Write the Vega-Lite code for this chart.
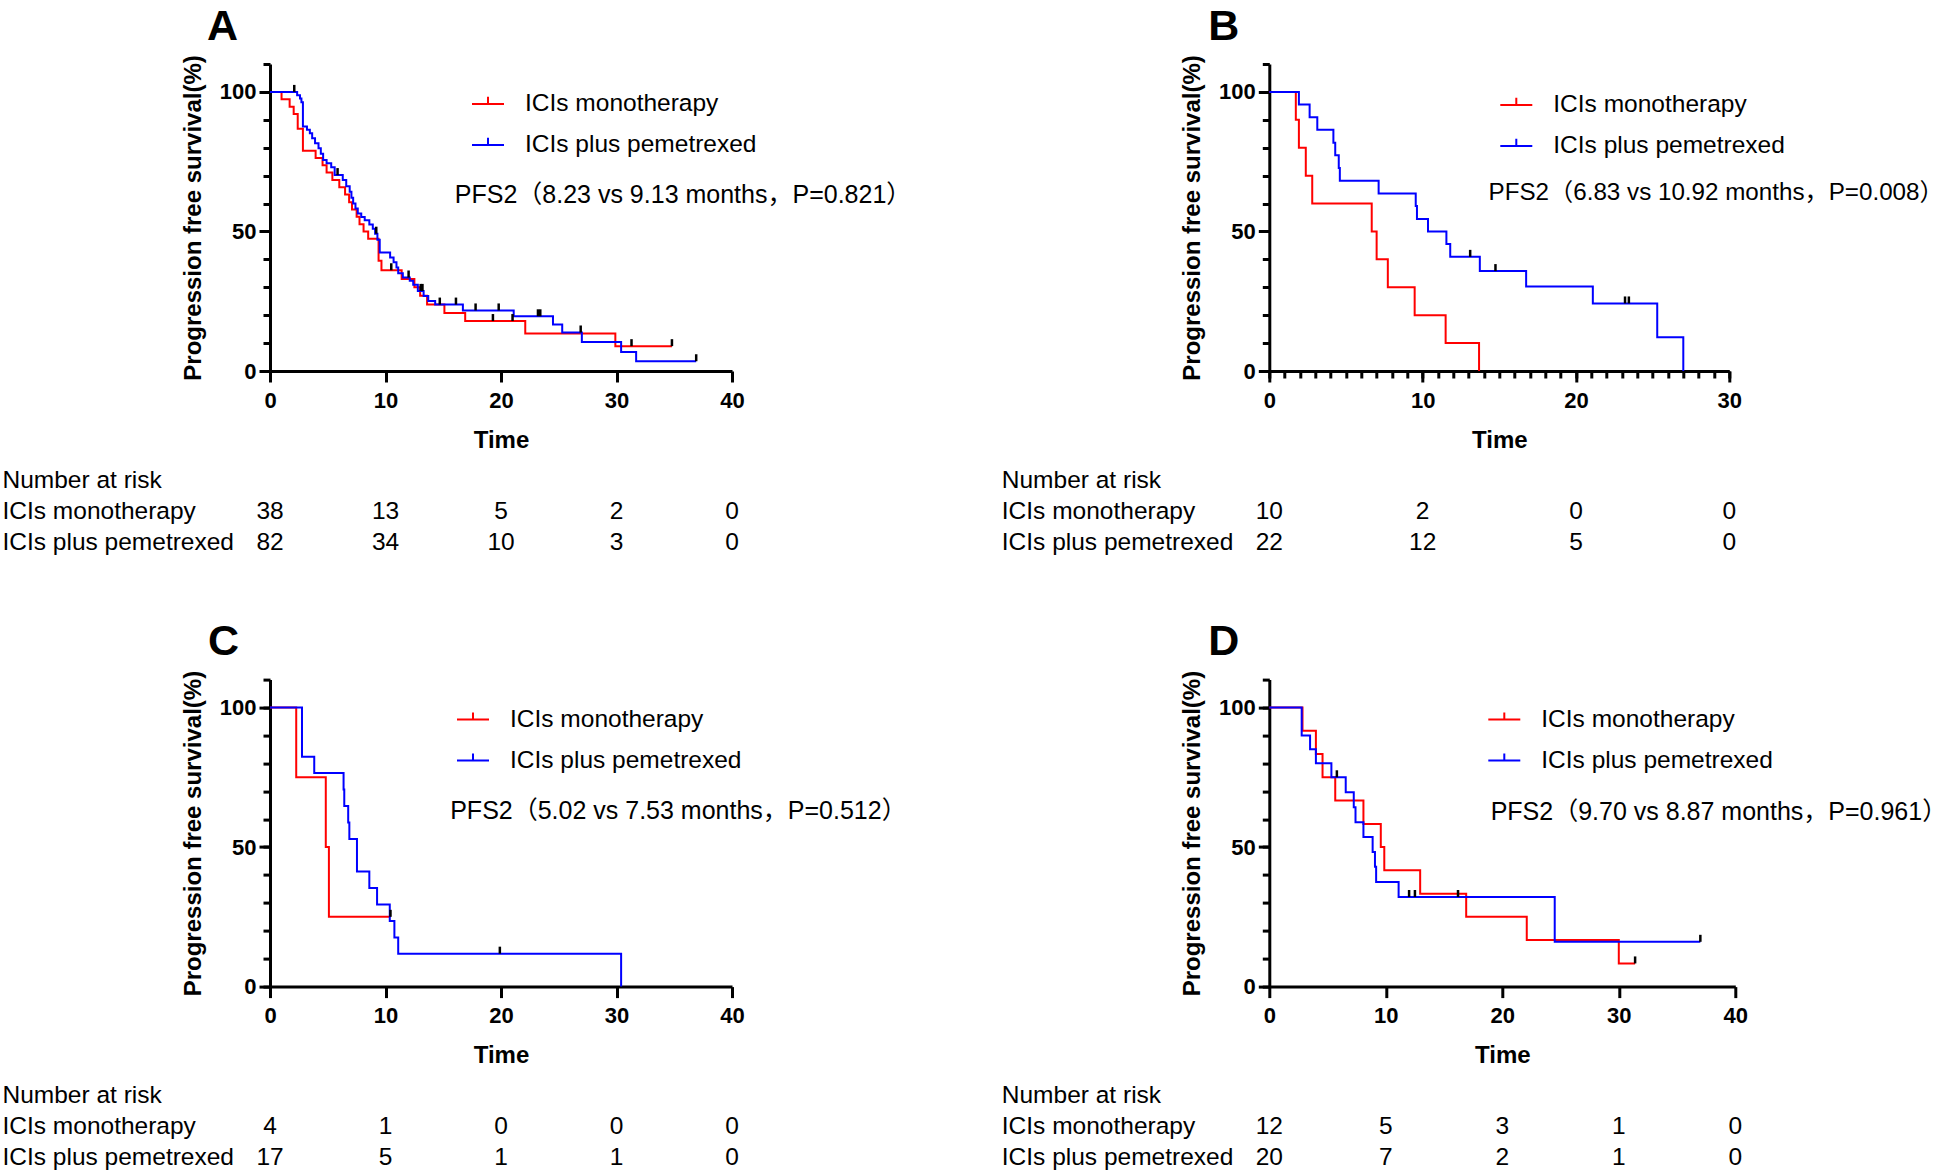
{
  "$schema": "https://vega.github.io/schema/vega-lite/v6.json",
  "padding": {"left": 2, "top": 5, "right": 0, "bottom": 0},
  "background": "white",
  "config": {
    "font": "Liberation Sans",
    "view": {"stroke": null},
    "axis": {"domainColor": "black", "domainWidth": 3, "tickColor": "black", "tickWidth": 3, "labelFont": "Liberation Sans", "labelFontWeight": "bold", "labelFontSize": 22, "labelColor": "black", "titleFont": "Liberation Sans", "titleFontSize": 24, "titleFontWeight": "bold", "titleColor": "black", "grid": false, "labelOverlap": false, "labelFlush": false},
    "legend": {"orient": "none", "title": null, "symbolSize": 1024, "symbolStrokeWidth": 2, "symbolType": "M-1,0H1M0,0V-0.45", "labelFontSize": 24.5, "labelFont": "Liberation Sans", "labelColor": "black", "labelOffset": 20, "rowPadding": 12, "padding": 0, "labelLimit": 500},
    "title": {"anchor": "start", "frame": "group", "fontSize": 43, "fontWeight": "bold", "font": "Liberation Sans", "color": "black", "offset": 6}
  },
  "datasets": {
    "aC": [
      {"g":"ICIs monotherapy","t":0,"s":100},{"g":"ICIs monotherapy","t":1.0,"s":97.4},{"g":"ICIs monotherapy","t":1.7,"s":94.7},{"g":"ICIs monotherapy","t":2.05,"s":92.1},{"g":"ICIs monotherapy","t":2.4,"s":86.8},{"g":"ICIs monotherapy","t":2.85,"s":78.9},{"g":"ICIs monotherapy","t":3.95,"s":76.3},{"g":"ICIs monotherapy","t":4.55,"s":73.7},{"g":"ICIs monotherapy","t":4.9,"s":71.1},{"g":"ICIs monotherapy","t":5.4,"s":68.4},{"g":"ICIs monotherapy","t":6.0,"s":65.8},{"g":"ICIs monotherapy","t":6.5,"s":63.2},{"g":"ICIs monotherapy","t":6.85,"s":60.5},{"g":"ICIs monotherapy","t":7.1,"s":57.9},{"g":"ICIs monotherapy","t":7.5,"s":55.3},{"g":"ICIs monotherapy","t":7.75,"s":52.6},{"g":"ICIs monotherapy","t":8.1,"s":50.0},{"g":"ICIs monotherapy","t":8.5,"s":47.4},{"g":"ICIs monotherapy","t":9.4,"s":39.5},{"g":"ICIs monotherapy","t":9.65,"s":36.1},{"g":"ICIs monotherapy","t":11.4,"s":33.0},{"g":"ICIs monotherapy","t":12.5,"s":30.0},{"g":"ICIs monotherapy","t":13.0,"s":27.0},{"g":"ICIs monotherapy","t":13.6,"s":23.8},{"g":"ICIs monotherapy","t":15.1,"s":20.8},{"g":"ICIs monotherapy","t":16.9,"s":17.9},{"g":"ICIs monotherapy","t":22.1,"s":13.4},{"g":"ICIs monotherapy","t":29.9,"s":8.9},{"g":"ICIs monotherapy","t":34.8,"s":8.9},
      {"g":"ICIs plus pemetrexed","t":0,"s":100},{"g":"ICIs plus pemetrexed","t":2.35,"s":98.8},{"g":"ICIs plus pemetrexed","t":2.6,"s":97.6},{"g":"ICIs plus pemetrexed","t":2.72,"s":96.3},{"g":"ICIs plus pemetrexed","t":2.85,"s":87.6},{"g":"ICIs plus pemetrexed","t":3.2,"s":86.4},{"g":"ICIs plus pemetrexed","t":3.45,"s":85.2},{"g":"ICIs plus pemetrexed","t":3.65,"s":83.4},{"g":"ICIs plus pemetrexed","t":3.9,"s":81.6},{"g":"ICIs plus pemetrexed","t":4.2,"s":79.8},{"g":"ICIs plus pemetrexed","t":4.4,"s":77.8},{"g":"ICIs plus pemetrexed","t":4.6,"s":75.6},{"g":"ICIs plus pemetrexed","t":4.9,"s":74.4},{"g":"ICIs plus pemetrexed","t":5.3,"s":73.0},{"g":"ICIs plus pemetrexed","t":5.6,"s":70.2},{"g":"ICIs plus pemetrexed","t":6.3,"s":68.4},{"g":"ICIs plus pemetrexed","t":6.6,"s":66.2},{"g":"ICIs plus pemetrexed","t":6.9,"s":64.2},{"g":"ICIs plus pemetrexed","t":7.05,"s":62.1},{"g":"ICIs plus pemetrexed","t":7.2,"s":60.0},{"g":"ICIs plus pemetrexed","t":7.4,"s":58.2},{"g":"ICIs plus pemetrexed","t":7.6,"s":56.4},{"g":"ICIs plus pemetrexed","t":7.9,"s":55.2},{"g":"ICIs plus pemetrexed","t":8.2,"s":54.0},{"g":"ICIs plus pemetrexed","t":8.6,"s":52.5},{"g":"ICIs plus pemetrexed","t":8.9,"s":51.0},{"g":"ICIs plus pemetrexed","t":9.1,"s":49.2},{"g":"ICIs plus pemetrexed","t":9.3,"s":47.0},{"g":"ICIs plus pemetrexed","t":9.5,"s":42.5},{"g":"ICIs plus pemetrexed","t":10.4,"s":40.7},{"g":"ICIs plus pemetrexed","t":10.7,"s":39.0},{"g":"ICIs plus pemetrexed","t":10.95,"s":37.1},{"g":"ICIs plus pemetrexed","t":11.1,"s":35.0},{"g":"ICIs plus pemetrexed","t":11.5,"s":33.5},{"g":"ICIs plus pemetrexed","t":12.1,"s":32.3},{"g":"ICIs plus pemetrexed","t":12.4,"s":30.9},{"g":"ICIs plus pemetrexed","t":12.8,"s":28.7},{"g":"ICIs plus pemetrexed","t":13.3,"s":26.9},{"g":"ICIs plus pemetrexed","t":13.7,"s":25.1},{"g":"ICIs plus pemetrexed","t":14.3,"s":23.8},{"g":"ICIs plus pemetrexed","t":16.7,"s":21.7},{"g":"ICIs plus pemetrexed","t":21.1,"s":19.6},{"g":"ICIs plus pemetrexed","t":24.5,"s":16.7},{"g":"ICIs plus pemetrexed","t":25.3,"s":13.8},{"g":"ICIs plus pemetrexed","t":27.0,"s":10.4},{"g":"ICIs plus pemetrexed","t":30.4,"s":6.8},{"g":"ICIs plus pemetrexed","t":31.7,"s":3.5},{"g":"ICIs plus pemetrexed","t":36.9,"s":3.5}
    ],
    "aK": [
      {"t":10.5,"s":36.1},{"t":19.3,"s":17.9},{"t":21.0,"s":17.9},{"t":31.3,"s":8.9},{"t":34.8,"s":8.9},
      {"t":2.1,"s":100},{"t":5.85,"s":70.2},{"t":9.2,"s":49.2},{"t":12.0,"s":33.5},{"t":13.05,"s":28.7},{"t":13.2,"s":28.7},{"t":14.7,"s":23.8},{"t":16.1,"s":23.8},{"t":17.8,"s":21.7},{"t":19.8,"s":21.7},{"t":23.2,"s":19.6},{"t":23.4,"s":19.6},{"t":26.9,"s":13.8},{"t":36.9,"s":3.5}
    ],
    "aR": [
      {"g":"ICIs monotherapy","t":0,"n":"38"},{"g":"ICIs monotherapy","t":10,"n":"13"},{"g":"ICIs monotherapy","t":20,"n":"5"},{"g":"ICIs monotherapy","t":30,"n":"2"},{"g":"ICIs monotherapy","t":40,"n":"0"},
      {"g":"ICIs plus pemetrexed","t":0,"n":"82"},{"g":"ICIs plus pemetrexed","t":10,"n":"34"},{"g":"ICIs plus pemetrexed","t":20,"n":"10"},{"g":"ICIs plus pemetrexed","t":30,"n":"3"},{"g":"ICIs plus pemetrexed","t":40,"n":"0"}
    ],
    "bC": [
      {"g":"ICIs monotherapy","t":0,"s":100},{"g":"ICIs monotherapy","t":1.73,"s":90},{"g":"ICIs monotherapy","t":1.93,"s":80},{"g":"ICIs monotherapy","t":2.38,"s":70},{"g":"ICIs monotherapy","t":2.8,"s":60},{"g":"ICIs monotherapy","t":6.68,"s":50},{"g":"ICIs monotherapy","t":7.0,"s":40},{"g":"ICIs monotherapy","t":7.73,"s":30},{"g":"ICIs monotherapy","t":9.48,"s":20},{"g":"ICIs monotherapy","t":11.5,"s":10},{"g":"ICIs monotherapy","t":13.68,"s":0},
      {"g":"ICIs plus pemetrexed","t":0,"s":100},{"g":"ICIs plus pemetrexed","t":1.93,"s":95.45},{"g":"ICIs plus pemetrexed","t":2.63,"s":90.9},{"g":"ICIs plus pemetrexed","t":3.13,"s":86.4},{"g":"ICIs plus pemetrexed","t":4.18,"s":81.8},{"g":"ICIs plus pemetrexed","t":4.3,"s":77.3},{"g":"ICIs plus pemetrexed","t":4.53,"s":72.7},{"g":"ICIs plus pemetrexed","t":4.6,"s":68.2},{"g":"ICIs plus pemetrexed","t":7.13,"s":63.6},{"g":"ICIs plus pemetrexed","t":9.55,"s":59.1},{"g":"ICIs plus pemetrexed","t":9.63,"s":54.5},{"g":"ICIs plus pemetrexed","t":10.35,"s":50},{"g":"ICIs plus pemetrexed","t":11.55,"s":45.5},{"g":"ICIs plus pemetrexed","t":11.8,"s":40.9},{"g":"ICIs plus pemetrexed","t":13.73,"s":35.8},{"g":"ICIs plus pemetrexed","t":16.75,"s":30.3},{"g":"ICIs plus pemetrexed","t":21.1,"s":24.2},{"g":"ICIs plus pemetrexed","t":25.3,"s":12.1},{"g":"ICIs plus pemetrexed","t":27.0,"s":0}
    ],
    "bK": [
      {"t":13.1,"s":40.9},{"t":14.75,"s":35.8},{"t":23.2,"s":24.2},{"t":23.45,"s":24.2}
    ],
    "bR": [
      {"g":"ICIs monotherapy","t":0,"n":"10"},{"g":"ICIs monotherapy","t":10,"n":"2"},{"g":"ICIs monotherapy","t":20,"n":"0"},{"g":"ICIs monotherapy","t":30,"n":"0"},
      {"g":"ICIs plus pemetrexed","t":0,"n":"22"},{"g":"ICIs plus pemetrexed","t":10,"n":"12"},{"g":"ICIs plus pemetrexed","t":20,"n":"5"},{"g":"ICIs plus pemetrexed","t":30,"n":"0"}
    ],
    "cC": [
      {"g":"ICIs monotherapy","t":0,"s":100},{"g":"ICIs monotherapy","t":2.27,"s":75},{"g":"ICIs monotherapy","t":4.83,"s":50},{"g":"ICIs monotherapy","t":5.1,"s":25},{"g":"ICIs monotherapy","t":10.43,"s":25},
      {"g":"ICIs plus pemetrexed","t":0,"s":100},{"g":"ICIs plus pemetrexed","t":2.77,"s":82.4},{"g":"ICIs plus pemetrexed","t":3.83,"s":76.5},{"g":"ICIs plus pemetrexed","t":6.37,"s":70.6},{"g":"ICIs plus pemetrexed","t":6.43,"s":64.7},{"g":"ICIs plus pemetrexed","t":6.77,"s":58.8},{"g":"ICIs plus pemetrexed","t":6.87,"s":52.9},{"g":"ICIs plus pemetrexed","t":7.53,"s":41.2},{"g":"ICIs plus pemetrexed","t":8.6,"s":35.3},{"g":"ICIs plus pemetrexed","t":9.27,"s":29.4},{"g":"ICIs plus pemetrexed","t":10.37,"s":23.5},{"g":"ICIs plus pemetrexed","t":10.77,"s":17.6},{"g":"ICIs plus pemetrexed","t":11.1,"s":11.8},{"g":"ICIs plus pemetrexed","t":30.4,"s":0}
    ],
    "cK": [
      {"t":10.43,"s":25},{"t":19.9,"s":11.8}
    ],
    "cR": [
      {"g":"ICIs monotherapy","t":0,"n":"4"},{"g":"ICIs monotherapy","t":10,"n":"1"},{"g":"ICIs monotherapy","t":20,"n":"0"},{"g":"ICIs monotherapy","t":30,"n":"0"},{"g":"ICIs monotherapy","t":40,"n":"0"},
      {"g":"ICIs plus pemetrexed","t":0,"n":"17"},{"g":"ICIs plus pemetrexed","t":10,"n":"5"},{"g":"ICIs plus pemetrexed","t":20,"n":"1"},{"g":"ICIs plus pemetrexed","t":30,"n":"1"},{"g":"ICIs plus pemetrexed","t":40,"n":"0"}
    ],
    "dC": [
      {"g":"ICIs monotherapy","t":0,"s":100},{"g":"ICIs monotherapy","t":2.85,"s":91.7},{"g":"ICIs monotherapy","t":4.0,"s":83.3},{"g":"ICIs monotherapy","t":4.57,"s":75},{"g":"ICIs monotherapy","t":5.66,"s":66.7},{"g":"ICIs monotherapy","t":8.08,"s":58.3},{"g":"ICIs monotherapy","t":9.57,"s":50},{"g":"ICIs monotherapy","t":9.87,"s":41.7},{"g":"ICIs monotherapy","t":12.95,"s":33.3},{"g":"ICIs monotherapy","t":16.9,"s":25},{"g":"ICIs monotherapy","t":22.1,"s":16.7},{"g":"ICIs monotherapy","t":30.0,"s":8.3},{"g":"ICIs monotherapy","t":31.4,"s":8.3},
      {"g":"ICIs plus pemetrexed","t":0,"s":100},{"g":"ICIs plus pemetrexed","t":2.78,"s":90},{"g":"ICIs plus pemetrexed","t":3.5,"s":85},{"g":"ICIs plus pemetrexed","t":4.0,"s":80},{"g":"ICIs plus pemetrexed","t":5.33,"s":75},{"g":"ICIs plus pemetrexed","t":6.56,"s":69.6},{"g":"ICIs plus pemetrexed","t":7.25,"s":64.3},{"g":"ICIs plus pemetrexed","t":7.4,"s":58.9},{"g":"ICIs plus pemetrexed","t":8.08,"s":53.6},{"g":"ICIs plus pemetrexed","t":8.87,"s":48.2},{"g":"ICIs plus pemetrexed","t":9.07,"s":42.9},{"g":"ICIs plus pemetrexed","t":9.17,"s":37.5},{"g":"ICIs plus pemetrexed","t":11.1,"s":32.1},{"g":"ICIs plus pemetrexed","t":24.5,"s":16.05},{"g":"ICIs plus pemetrexed","t":37.0,"s":16.05}
    ],
    "dK": [
      {"t":31.4,"s":8.3},{"t":5.8,"s":75},{"t":12.0,"s":32.1},{"t":12.5,"s":32.1},{"t":16.2,"s":32.1},{"t":37.0,"s":16.05}
    ],
    "dR": [
      {"g":"ICIs monotherapy","t":0,"n":"12"},{"g":"ICIs monotherapy","t":10,"n":"5"},{"g":"ICIs monotherapy","t":20,"n":"3"},{"g":"ICIs monotherapy","t":30,"n":"1"},{"g":"ICIs monotherapy","t":40,"n":"0"},
      {"g":"ICIs plus pemetrexed","t":0,"n":"20"},{"g":"ICIs plus pemetrexed","t":10,"n":"7"},{"g":"ICIs plus pemetrexed","t":20,"n":"2"},{"g":"ICIs plus pemetrexed","t":30,"n":"1"},{"g":"ICIs plus pemetrexed","t":40,"n":"0"}
    ],
    "ann": [
      {"p":"A","label":"PFS2（8.23 vs 9.13 months，P=0.821）"},
      {"p":"B","label":"PFS2（6.83 vs 10.92 months，P=0.008）"},
      {"p":"C","label":"PFS2（5.02 vs 7.53 months，P=0.512）"},
      {"p":"D","label":"PFS2（9.70 vs 8.87 months，P=0.961）"}
    ]
  },
  "columns": 2,
  "bounds": "flush",
  "spacing": {"row": 94.3, "column": 537.3},
  "resolve": {"scale": {"color": "independent", "x": "independent", "y": "independent"}, "legend": {"color": "independent"}},
  "concat": [
    {
      "width": 462, "height": 307,
      "title": {"text": "A", "dx": -63},
      "resolve": {"axis": {"x": "independent", "y": "independent"}},
      "layer": [
        {"data": {"name": "aC"}, "mark": {"type": "line", "interpolate": "step-after", "strokeWidth": 2},
         "encoding": {
           "x": {"field": "t", "type": "quantitative", "scale": {"domain": [0, 40], "nice": false}, "axis": {"orient": "bottom", "values": [0, 10, 20, 30, 40], "tickSize": 11, "title": "Time", "labelPadding": 8, "titlePadding": 17}},
           "y": {"field": "s", "type": "quantitative", "scale": {"domain": [0, 110], "nice": false}, "axis": {"orient": "left", "values": [0, 50, 100], "tickSize": 11, "title": "Progression free survival(%)", "labelPadding": 3, "titlePadding": 14}},
           "color": {"field": "g", "type": "nominal", "scale": {"domain": ["ICIs monotherapy", "ICIs plus pemetrexed"], "range": ["#ff0000", "#0000ff"]}, "legend": {"legendX": 201, "legendY": 23}}
         }},
        {"data": {"name": "aK"}, "mark": {"type": "point", "shape": "M0,0L0,-1", "size": 196, "filled": false, "stroke": "black", "strokeWidth": 2.5, "opacity": 1},
         "encoding": {"x": {"field": "t", "type": "quantitative", "axis": null}, "y": {"field": "s", "type": "quantitative", "axis": {"orient": "left", "values": [0, 10, 20, 30, 40, 50, 60, 70, 80, 90, 100, 110], "tickSize": 7, "labels": false, "domain": false, "title": null}}}},
        {"data": {"name": "ann"}, "transform": [{"filter": "datum.p === 'A'"}], "mark": {"type": "text", "align": "left", "baseline": "middle", "fontSize": 25, "font": "Liberation Sans, 'Noto Sans CJK SC'", "color": "black"},
         "encoding": {"x": {"datum": 16, "type": "quantitative", "axis": null}, "y": {"datum": 63, "type": "quantitative", "axis": null}, "text": {"field": "label"}}}
      ]
    },
    {
      "width": 460, "height": 307,
      "title": {"text": "B", "dx": -61},
      "resolve": {"axis": {"x": "independent", "y": "independent"}},
      "layer": [
        {"data": {"name": "bC"}, "mark": {"type": "line", "interpolate": "step-after", "strokeWidth": 2},
         "encoding": {
           "x": {"field": "t", "type": "quantitative", "scale": {"domain": [0, 30], "nice": false}, "axis": {"orient": "bottom", "values": [0, 10, 20, 30], "tickSize": 11, "title": "Time", "labelPadding": 8, "titlePadding": 17}},
           "y": {"field": "s", "type": "quantitative", "scale": {"domain": [0, 110], "nice": false}, "axis": {"orient": "left", "values": [0, 50, 100], "tickSize": 11, "title": "Progression free survival(%)", "labelPadding": 3, "titlePadding": 14}},
           "color": {"field": "g", "type": "nominal", "scale": {"domain": ["ICIs monotherapy", "ICIs plus pemetrexed"], "range": ["#ff0000", "#0000ff"]}, "legend": {"legendX": 230, "legendY": 24}}
         }},
        {"data": {"name": "bK"}, "mark": {"type": "point", "shape": "M0,0L0,-1", "size": 196, "filled": false, "stroke": "black", "strokeWidth": 2.5, "opacity": 1},
         "encoding": {"x": {"field": "t", "type": "quantitative", "axis": {"orient": "bottom", "values": [0,1,2,3,4,5,6,7,8,9,10,11,12,13,14,15,16,17,18,19,20,21,22,23,24,25,26,27,28,29,30], "tickSize": 7, "labels": false, "domain": false, "title": null}}, "y": {"field": "s", "type": "quantitative", "axis": {"orient": "left", "values": [0, 10, 20, 30, 40, 50, 60, 70, 80, 90, 100, 110], "tickSize": 7, "labels": false, "domain": false, "title": null}}}},
        {"data": {"name": "ann"}, "transform": [{"filter": "datum.p === 'B'"}], "mark": {"type": "text", "align": "left", "baseline": "middle", "fontSize": 24.2, "font": "Liberation Sans, 'Noto Sans CJK SC'", "color": "black"},
         "encoding": {"x": {"datum": 14.3, "type": "quantitative", "axis": null}, "y": {"datum": 63.8, "type": "quantitative", "axis": null}, "text": {"field": "label"}}}
      ]
    },
    {
      "width": 462, "height": 119.2,
      "data": {"name": "aR"},
      "mark": {"type": "text", "fontSize": 24.5, "font": "Liberation Sans", "color": "black"},
      "encoding": {
        "x": {"field": "t", "type": "quantitative", "scale": {"domain": [0, 40], "nice": false}, "axis": null},
        "y": {"field": "g", "type": "nominal", "scale": {"type": "band", "domain": ["Number at risk", "ICIs monotherapy", "ICIs plus pemetrexed"], "paddingInner": 0, "paddingOuter": 0.4226, "align": 0}, "axis": {"title": null, "domain": false, "ticks": false, "tickSize": 0, "labelAlign": "left", "labelPadding": 268, "labelFontWeight": "normal", "labelFontSize": 24.5, "labelLimit": 500}},
        "text": {"field": "n"}
      }
    },
    {
      "width": 460, "height": 119.2,
      "data": {"name": "bR"},
      "mark": {"type": "text", "fontSize": 24.5, "font": "Liberation Sans", "color": "black"},
      "encoding": {
        "x": {"field": "t", "type": "quantitative", "scale": {"domain": [0, 30], "nice": false}, "axis": null},
        "y": {"field": "g", "type": "nominal", "scale": {"type": "band", "domain": ["Number at risk", "ICIs monotherapy", "ICIs plus pemetrexed"], "paddingInner": 0, "paddingOuter": 0.4226, "align": 0}, "axis": {"title": null, "domain": false, "ticks": false, "tickSize": 0, "labelAlign": "left", "labelPadding": 268, "labelFontWeight": "normal", "labelFontSize": 24.5, "labelLimit": 500}},
        "text": {"field": "n"}
      }
    },
    {
      "width": 462, "height": 307,
      "title": {"text": "C", "dx": -62},
      "resolve": {"axis": {"x": "independent", "y": "independent"}},
      "layer": [
        {"data": {"name": "cC"}, "mark": {"type": "line", "interpolate": "step-after", "strokeWidth": 2},
         "encoding": {
           "x": {"field": "t", "type": "quantitative", "scale": {"domain": [0, 40], "nice": false}, "axis": {"orient": "bottom", "values": [0, 10, 20, 30, 40], "tickSize": 11, "title": "Time", "labelPadding": 8, "titlePadding": 17}},
           "y": {"field": "s", "type": "quantitative", "scale": {"domain": [0, 110], "nice": false}, "axis": {"orient": "left", "values": [0, 50, 100], "tickSize": 11, "title": "Progression free survival(%)", "labelPadding": 3, "titlePadding": 14}},
           "color": {"field": "g", "type": "nominal", "scale": {"domain": ["ICIs monotherapy", "ICIs plus pemetrexed"], "range": ["#ff0000", "#0000ff"]}, "legend": {"legendX": 186, "legendY": 23}}
         }},
        {"data": {"name": "cK"}, "mark": {"type": "point", "shape": "M0,0L0,-1", "size": 196, "filled": false, "stroke": "black", "strokeWidth": 2.5, "opacity": 1},
         "encoding": {"x": {"field": "t", "type": "quantitative", "axis": null}, "y": {"field": "s", "type": "quantitative", "axis": {"orient": "left", "values": [0, 10, 20, 30, 40, 50, 60, 70, 80, 90, 100, 110], "tickSize": 7, "labels": false, "domain": false, "title": null}}}},
        {"data": {"name": "ann"}, "transform": [{"filter": "datum.p === 'C'"}], "mark": {"type": "text", "align": "left", "baseline": "middle", "fontSize": 25, "font": "Liberation Sans, 'Noto Sans CJK SC'", "color": "black"},
         "encoding": {"x": {"datum": 15.6, "type": "quantitative", "axis": null}, "y": {"datum": 63, "type": "quantitative", "axis": null}, "text": {"field": "label"}}}
      ]
    },
    {
      "width": 466, "height": 307,
      "title": {"text": "D", "dx": -61},
      "resolve": {"axis": {"x": "independent", "y": "independent"}},
      "layer": [
        {"data": {"name": "dC"}, "mark": {"type": "line", "interpolate": "step-after", "strokeWidth": 2},
         "encoding": {
           "x": {"field": "t", "type": "quantitative", "scale": {"domain": [0, 40], "nice": false}, "axis": {"orient": "bottom", "values": [0, 10, 20, 30, 40], "tickSize": 11, "title": "Time", "labelPadding": 8, "titlePadding": 17}},
           "y": {"field": "s", "type": "quantitative", "scale": {"domain": [0, 110], "nice": false}, "axis": {"orient": "left", "values": [0, 50, 100], "tickSize": 11, "title": "Progression free survival(%)", "labelPadding": 3, "titlePadding": 14}},
           "color": {"field": "g", "type": "nominal", "scale": {"domain": ["ICIs monotherapy", "ICIs plus pemetrexed"], "range": ["#ff0000", "#0000ff"]}, "legend": {"legendX": 218, "legendY": 23}}
         }},
        {"data": {"name": "dK"}, "mark": {"type": "point", "shape": "M0,0L0,-1", "size": 196, "filled": false, "stroke": "black", "strokeWidth": 2.5, "opacity": 1},
         "encoding": {"x": {"field": "t", "type": "quantitative", "axis": null}, "y": {"field": "s", "type": "quantitative", "axis": {"orient": "left", "values": [0, 10, 20, 30, 40, 50, 60, 70, 80, 90, 100, 110], "tickSize": 7, "labels": false, "domain": false, "title": null}}}},
        {"data": {"name": "ann"}, "transform": [{"filter": "datum.p === 'D'"}], "mark": {"type": "text", "align": "left", "baseline": "middle", "fontSize": 25, "font": "Liberation Sans, 'Noto Sans CJK SC'", "color": "black"},
         "encoding": {"x": {"datum": 19.0, "type": "quantitative", "axis": null}, "y": {"datum": 62.7, "type": "quantitative", "axis": null}, "text": {"field": "label"}}}
      ]
    },
    {
      "width": 462, "height": 93,
      "data": {"name": "cR"},
      "mark": {"type": "text", "fontSize": 24.5, "font": "Liberation Sans", "color": "black"},
      "encoding": {
        "x": {"field": "t", "type": "quantitative", "scale": {"domain": [0, 40], "nice": false}, "axis": null},
        "y": {"field": "g", "type": "nominal", "scale": {"type": "band", "domain": ["Number at risk", "ICIs monotherapy", "ICIs plus pemetrexed"], "paddingInner": 0, "paddingOuter": 0}, "axis": {"title": null, "domain": false, "ticks": false, "tickSize": 0, "labelAlign": "left", "labelPadding": 268, "labelFontWeight": "normal", "labelFontSize": 24.5, "labelLimit": 500}},
        "text": {"field": "n"}
      }
    },
    {
      "width": 466, "height": 93,
      "data": {"name": "dR"},
      "mark": {"type": "text", "fontSize": 24.5, "font": "Liberation Sans", "color": "black"},
      "encoding": {
        "x": {"field": "t", "type": "quantitative", "scale": {"domain": [0, 40], "nice": false}, "axis": null},
        "y": {"field": "g", "type": "nominal", "scale": {"type": "band", "domain": ["Number at risk", "ICIs monotherapy", "ICIs plus pemetrexed"], "paddingInner": 0, "paddingOuter": 0}, "axis": {"title": null, "domain": false, "ticks": false, "tickSize": 0, "labelAlign": "left", "labelPadding": 268, "labelFontWeight": "normal", "labelFontSize": 24.5, "labelLimit": 500}},
        "text": {"field": "n"}
      }
    }
  ]
}
